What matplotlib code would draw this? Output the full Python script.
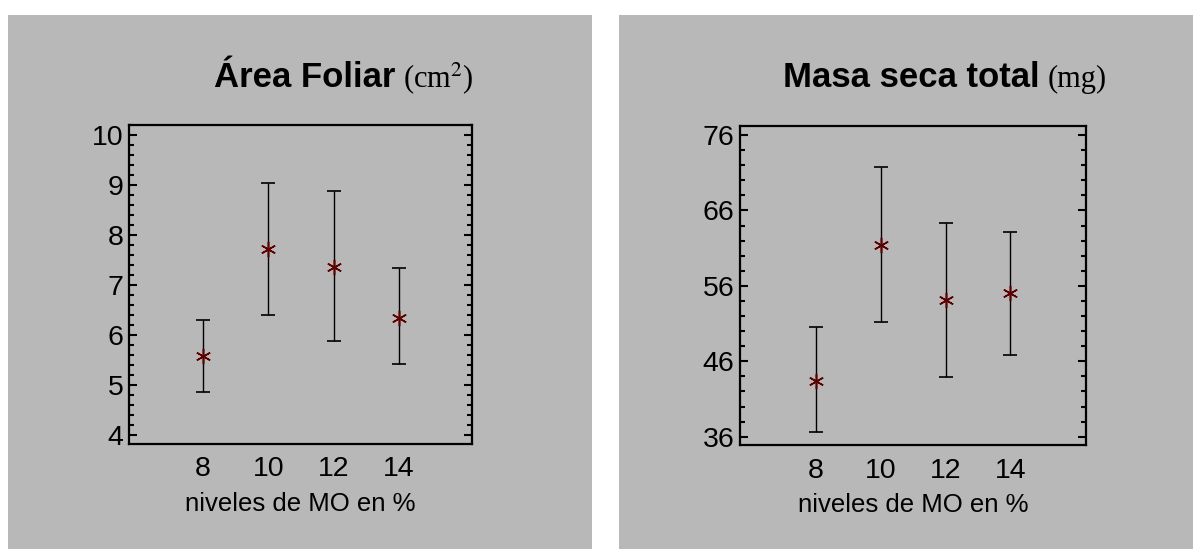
import matplotlib
matplotlib.use('Agg')
import matplotlib.pyplot as plt
from matplotlib.patches import Rectangle
from matplotlib.ticker import MultipleLocator

# Data
niveles = [8, 10, 12, 14]

area_media = [5.58, 7.71, 7.36, 6.35]
area_sup = [6.29, 9.04, 8.88, 7.33]
area_inf = [4.87, 6.39, 5.87, 5.42]

masa_media = [43.4, 61.4, 54.1, 55.1]
masa_sup = [50.5, 71.7, 64.4, 63.1]
masa_inf = [36.6, 51.2, 43.95, 46.9]

gris = '#b8b8b8'
W, H = 1193, 549

plt.rcParams['font.family'] = ['Liberation Sans', 'DejaVu Sans']
plt.rcParams['mathtext.fontset'] = 'stix'

fig = plt.figure(figsize=(W / 100, H / 100), dpi=100, facecolor='white')

# gray panels behind each chart
fig.add_artist(Rectangle((8 / W, 0), 584 / W, 534 / H, transform=fig.transFigure,
                         facecolor=gris, edgecolor='none', zorder=-5))
fig.add_artist(Rectangle((619 / W, 0), 574 / W, 534 / H, transform=fig.transFigure,
                         facecolor=gris, edgecolor='none', zorder=-5))


def panel(rect, media, sup, inf, ylim, ticks, minor, xlim):
    ax = fig.add_axes(rect)
    ax.set_facecolor(gris)
    err = [[m - i for m, i in zip(media, inf)], [s - m for m, s in zip(media, sup)]]
    ax.errorbar(niveles, media, yerr=err, fmt='none', ecolor='black', elinewidth=1,
                capsize=5, capthick=1.2)
    ax.plot(niveles, media, linestyle='none', marker=(6, 2, 0), markersize=11,
            markeredgecolor='#5c0000', markeredgewidth=1.1, color='#5c0000')
    ax.set_xlim(*xlim)
    ax.set_ylim(*ylim)
    ax.set_xticks(niveles)
    ax.set_yticks(ticks)
    ax.yaxis.set_minor_locator(MultipleLocator(minor))
    ax.tick_params(axis='x', length=0, labelsize=20.5, pad=9)
    ax.tick_params(axis='y', which='major', direction='in', length=6, width=1.5,
                   right=True, labelsize=20.5, pad=4)
    ax.tick_params(axis='y', which='minor', direction='in', length=3.5, width=1.5,
                   right=True)
    for s in ax.spines.values():
        s.set_linewidth(1.6)
    ax.set_xlabel('niveles de MO en %', fontsize=18.5, labelpad=7)
    return ax


panel([129 / W, 1 - 444 / H, 343 / W, 319 / H], area_media, area_sup, area_inf,
      (3.82, 10.2), [4, 5, 6, 7, 8, 9, 10], 0.2, (5.73, 16.23))
panel([740 / W, 1 - 445 / H, 346 / W, 319 / H], masa_media, masa_sup, masa_inf,
      (34.9, 77.2), [36, 46, 56, 66, 76], 2, (5.66, 16.33))

yb = 1 - 87 / H
fig.text(395 / W, yb, 'Área Foliar', fontsize=25, fontweight='bold', ha='right', va='baseline')
fig.text(403 / W, yb, '(cm$^2$)', fontsize=22, family=['Liberation Serif', 'DejaVu Serif'],
         ha='left', va='baseline')
fig.text(1040 / W, yb, 'Masa seca total', fontsize=25, fontweight='bold', ha='right', va='baseline')
fig.text(1048 / W, yb, '(mg)', fontsize=22, family=['Liberation Serif', 'DejaVu Serif'],
         ha='left', va='baseline')

fig.savefig('out.png', dpi=100, facecolor='white')
